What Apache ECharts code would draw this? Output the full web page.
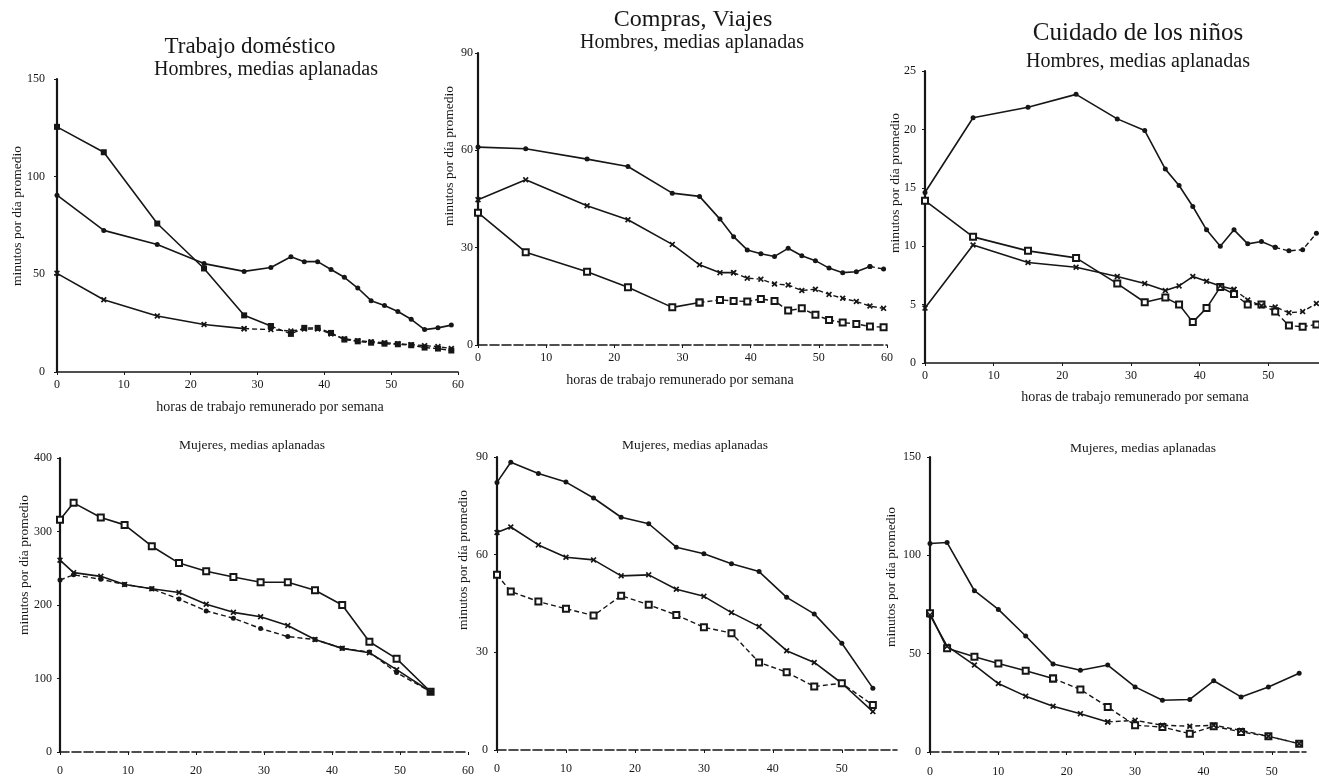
<!DOCTYPE html>
<html>
<head>
<meta charset="utf-8">
<script src="https://cdn.jsdelivr.net/npm/echarts@6/dist/echarts.min.js"></script>
<style>
  html, body { margin: 0; padding: 0; background: #fff; }
  #chart { width: 1319px; height: 777px; }
</style>
</head>
<body>
<div id="chart"></div>
<script>
// ---- datos: horas de trabajo remunerado por semana (eje x) ----
const horasDomH = [0, 7, 15, 22, 28, 32, 35, 37, 39, 41, 43, 45, 47, 49, 51, 53, 55, 57, 59];
const horasComH = [0, 7, 16, 22, 28.5, 32.5, 35.5, 37.5, 39.5, 41.5, 43.5, 45.5, 47.5, 49.5, 51.5, 53.5, 55.5, 57.5, 59.5];
const horasNinH = [0, 7, 15, 22, 28, 32, 35, 37, 39, 41, 43, 45, 47, 49, 51, 53, 55, 57];
const horasDomM = [0, 2, 6, 9.5, 13.5, 17.5, 21.5, 25.5, 29.5, 33.5, 37.5, 41.5, 45.5, 49.5, 54.5];
const horasComM = [0, 2, 6, 10, 14, 18, 22, 26, 30, 34, 38, 42, 46, 50, 54.5];
const horasNinM = [0, 2.5, 6.5, 10, 14, 18, 22, 26, 30, 34, 38, 41.5, 45.5, 49.5, 54];

// Trabajo doméstico, hombres (minutos por día)
const domH_a = [125.5, 112.5, 76, 53, 29, 23.5, 19.5, 22.6, 22.6, 20, 16.6, 15.7, 15, 14.5, 14.2, 13.7, 12.5, 12, 11];
const domH_b = [90.5, 72.5, 65.3, 55.5, 51.5, 53.5, 59, 56.5, 56.5, 52.5, 48.5, 43, 36.5, 34, 31, 27, 21.7, 22.6, 24];
const domH_c = [50.5, 37, 28.7, 24.3, 22.2, 21.7, 21, 22, 22, 19.5, 17, 16, 15.5, 15, 14.5, 14, 13.5, 13, 12];

// Compras, viajes, hombres
const comH_a = [61, 60.5, 57.3, 55, 46.8, 45.8, 38.8, 33.4, 29.3, 28.1, 27.3, 29.8, 27.5, 26, 23.7, 22.3, 22.6, 24.2, 23.4];
const comH_b = [44.8, 50.9, 42.9, 38.6, 31, 24.7, 22.3, 22.3, 20.6, 20.3, 18.8, 18.5, 16.8, 17.2, 15.6, 14.4, 13.4, 12, 11.3];
const comH_c = [40.8, 28.6, 22.6, 17.8, 11.6, 13.1, 13.9, 13.6, 13.4, 14.2, 13.6, 10.6, 11.3, 9.3, 7.7, 6.9, 6.5, 5.7, 5.5];

// Cuidado de los niños, hombres
const ninH_a = [14.6, 21, 21.9, 23, 20.9, 19.9, 16.6, 15.2, 13.4, 11.4, 10, 11.4, 10.2, 10.4, 9.9, 9.6, 9.7, 11.1];
const ninH_b = [13.9, 10.8, 9.6, 9, 6.8, 5.2, 5.6, 5, 3.5, 4.7, 6.5, 5.9, 5, 5, 4.4, 3.2, 3.1, 3.3];
const ninH_c = [4.7, 10.1, 8.6, 8.2, 7.4, 6.8, 6.2, 6.6, 7.4, 7, 6.6, 6.3, 5.4, 4.9, 4.8, 4.3, 4.4, 5.1];

// Trabajo doméstico, mujeres
const domM_a = [316, 339, 319, 309, 280, 257, 246, 238, 231, 231, 220, 200, 150, 127, 82];
const domM_b = [261, 244, 239, 228, 222, 217, 201, 190, 184, 172, 153, 141, 135, 112, 82];
const domM_c = [234, 241, 235, 228, 222, 208, 192, 182, 168, 157, 153, 141, 136, 108, 82];

// Compras, viajes, mujeres
const comM_a = [82.2, 88.4, 84.9, 82.3, 77.4, 71.5, 69.5, 62.3, 60.3, 57.2, 54.8, 46.9, 41.8, 32.8, 19];
const comM_b = [66.8, 68.5, 63, 59.2, 58.4, 53.5, 53.8, 49.4, 47.2, 42.2, 37.9, 30.5, 26.9, 20.5, 11.8];
const comM_c = [53.8, 48.7, 45.6, 43.4, 41.3, 47.4, 44.6, 41.5, 37.7, 35.9, 26.9, 23.9, 19.5, 20.5, 13.8];

// Cuidado de los niños, mujeres
const ninM_a = [106, 106.5, 82, 72.5, 59, 44.7, 41.6, 44.2, 33.1, 26.3, 26.7, 36.2, 28, 33.1, 40];
const ninM_b = [70.5, 52.7, 48.4, 45, 41.3, 37.4, 31.8, 22.9, 13.6, 12.7, 9.3, 13.1, 10.2, 8, 4.2];
const ninM_c = [69.6, 53.8, 44.2, 34.8, 28.4, 23.3, 19.5, 15.3, 16.1, 13.6, 13.1, 13.6, 11, 8, 4.2];

// ---- estilo ----
const tinta = "#161616";
const fuente = '"Liberation Serif", "DejaVu Serif", serif';
const cruz = "path://M2,0L5,3L8,0L10,2L7,5L10,8L8,10L5,7L2,10L0,8L3,5L0,2Z";
const nombreY = "minutos por día promedio";
const nombreX = "horas de trabajo remunerado por semana";

function pares(xs, ys, desde, hasta) {
  return xs.slice(desde, hasta).map((x, i) => [x, ys[desde + i]]);
}

// una serie; desde "corte" en adelante la línea va rayada
function linea(g, xs, ys, simbolo, corte) {
  const n = xs.length;
  if (corte === undefined) corte = n;
  const base = {
    type: "line",
    xAxisIndex: g,
    yAxisIndex: g,
    symbol: simbolo,
    symbolSize: simbolo === "circle" ? 5 : 6,
    itemStyle: { color: tinta },
    animation: false,
  };
  const out = [];
  if (corte > 0) {
    out.push(Object.assign({}, base, {
      data: pares(xs, ys, 0, Math.min(corte + 1, n)),
      lineStyle: { color: tinta, width: 1.6 },
    }));
  }
  if (corte < n - 1) {
    out.push(Object.assign({}, base, {
      data: pares(xs, ys, corte, n),
      lineStyle: { color: tinta, width: 1.4, type: [5, 3] },
    }));
  }
  return out;
}

function ejeX(g, max, margen, rayada, ultima) {
  return {
    type: "value",
    gridIndex: g,
    min: 0,
    max: max,
    interval: 10,
    axisLine: { lineStyle: { color: tinta, width: 1.6, type: rayada ? [9, 3] : "solid" } },
    axisTick: { length: 3, lineStyle: { color: tinta } },
    axisLabel: { color: tinta, fontFamily: fuente, fontSize: 12, margin: margen, showMaxLabel: ultima },
    splitLine: { show: false },
  };
}

function ejeY(g, max, intervalo, margen) {
  return {
    type: "value",
    gridIndex: g,
    min: 0,
    max: max,
    interval: intervalo,
    axisLine: { show: true, lineStyle: { color: tinta, width: 2.2 } },
    axisTick: { show: true, length: 3, lineStyle: { color: tinta } },
    axisLabel: { color: tinta, fontFamily: fuente, fontSize: 12, margin: margen },
    splitLine: { show: false },
  };
}

function texto(x, y, t, size, girado) {
  return {
    type: "text",
    x: x,
    y: y,
    rotation: girado ? Math.PI / 2 : 0,
    style: {
      text: t,
      font: size + "px " + fuente,
      fill: tinta,
      textAlign: "center",
      align: "center",
      textVerticalAlign: "middle",
      verticalAlign: "middle",
    },
  };
}

const chart = echarts.init(document.getElementById("chart"));

chart.setOption({
  backgroundColor: "#fff",
  grid: [
    { left: 57, top: 79, width: 401, height: 293, outerBoundsMode: "none" },
    { left: 478, top: 53, width: 409, height: 292, outerBoundsMode: "none" },
    { left: 925, top: 71, width: 412, height: 292, outerBoundsMode: "none" },
    { left: 60, top: 458, width: 408, height: 294, outerBoundsMode: "none" },
    { left: 497, top: 457, width: 400, height: 293, outerBoundsMode: "none" },
    { left: 930, top: 457, width: 376, height: 295, outerBoundsMode: "none" },
  ],
  xAxis: [
    ejeX(0, 60, 7, false, true),
    ejeX(1, 60, 7, true, true),
    ejeX(2, 60, 7, false, false),
    ejeX(3, 60, 13, true, true),
    ejeX(4, 58, 13, true, false),
    ejeX(5, 55, 14, true, false),
  ],
  yAxis: [
    ejeY(0, 150, 50, 12),
    ejeY(1, 90, 30, 5),
    ejeY(2, 25, 5, 9),
    ejeY(3, 400, 100, 8),
    ejeY(4, 90, 30, 9),
    ejeY(5, 150, 50, 9),
  ],
  graphic: [
    // títulos
    texto(250, 47, "Trabajo doméstico", 23),
    texto(266, 70, "Hombres, medias aplanadas", 20),
    texto(693, 20, "Compras, Viajes", 24),
    texto(692, 43, "Hombres, medias aplanadas", 20),
    texto(1138, 33, "Cuidado de los niños", 25),
    texto(1138, 62, "Hombres, medias aplanadas", 20),
    texto(252, 445, "Mujeres, medias aplanadas", 13.5),
    texto(695, 445, "Mujeres, medias aplanadas", 13.5),
    texto(1143, 448, "Mujeres, medias aplanadas", 13.5),
    // nombres de los ejes
    texto(270, 407, nombreX, 14),
    texto(680, 380, nombreX, 14),
    texto(1135, 397, nombreX, 14),
    texto(17, 216, nombreY, 13.5, true),
    texto(449, 156, nombreY, 13.5, true),
    texto(895, 183, nombreY, 13.5, true),
    texto(24, 565, nombreY, 13.5, true),
    texto(463, 560, nombreY, 13.5, true),
    texto(891, 577, nombreY, 13.5, true),
  ],
  series: [].concat(
    linea(0, horasDomH, domH_a, "rect", 5),
    linea(0, horasDomH, domH_b, "circle"),
    linea(0, horasDomH, domH_c, cruz, 4),

    linea(1, horasComH, comH_a, "circle", 17),
    linea(1, horasComH, comH_b, cruz, 7),
    linea(1, horasComH, comH_c, "emptyRect", 5),

    linea(2, horasNinH, ninH_a, "circle", 14),
    linea(2, horasNinH, ninH_b, "emptyRect", 11),
    linea(2, horasNinH, ninH_c, cruz, 11),

    linea(3, horasDomM, domM_a, "emptyRect"),
    linea(3, horasDomM, domM_b, cruz),
    linea(3, horasDomM, domM_c, "circle", 0),

    linea(4, horasComM, comM_a, "circle"),
    linea(4, horasComM, comM_b, cruz),
    linea(4, horasComM, comM_c, "emptyRect", 0),

    linea(5, horasNinM, ninM_a, "circle"),
    linea(5, horasNinM, ninM_b, "emptyRect", 5),
    linea(5, horasNinM, ninM_c, cruz, 7)
  ),
});
</script>
</body>
</html>
